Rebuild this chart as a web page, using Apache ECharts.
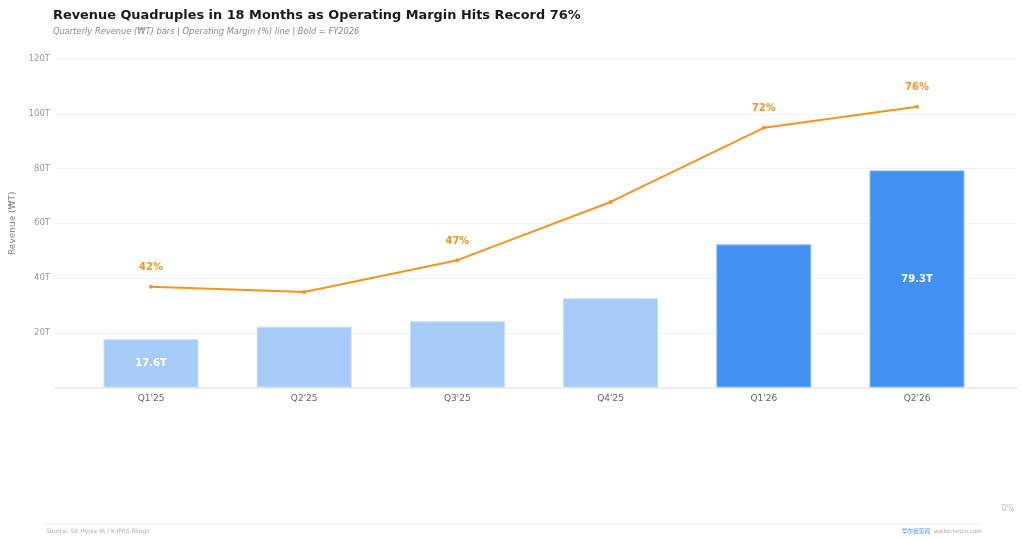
<!DOCTYPE html>
<html>
<head>
<meta charset="utf-8">
<script src="https://cdn.jsdelivr.net/npm/echarts@6/dist/echarts.min.js"></script>
<style>html,body{margin:0;padding:0;background:#fff}#c{width:1024px;height:540px}</style>
</head>
<body>
<div id="c"></div>
<script>
const quarters = ["Q1'25", "Q2'25", "Q3'25", "Q4'25", "Q1'26", "Q2'26"];
const fiscalYear = ['FY2025', 'FY2025', 'FY2025', 'FY2025', 'FY2026', 'FY2026'];
const revenueT = [17.6, 22.2, 24.2, 32.6, 52.3, 79.3];
const marginPct = [42, 41, 47, 58, 72, 76];
const revenueLabelIdx = [0, 5];
const marginLabelIdx = [0, 2, 4, 5];
const revenueTicks = [0, 20, 40, 60, 80, 100, 120];

const FONT = 'DejaVu Sans';
const chart = echarts.init(document.getElementById('c'), null, {renderer: 'canvas'});

const barData = revenueT.map((v, i) => ({
  value: v,
  itemStyle: {
    color: fiscalYear[i] === 'FY2026' ? '#4290f2' : '#a6cbf7',
    borderColor: fiscalYear[i] === 'FY2026' ? '#8fbcf7' : '#c4ddfa',
    borderWidth: 1
  },
  label: {show: revenueLabelIdx.includes(i)}
}));
const lineData = marginPct.map((v, i) => ({
  value: v,
  label: {show: marginLabelIdx.includes(i)}
}));

const gl = 74.4, gr = 30.4;
chart.setOption({
  animation: false,
  backgroundColor: '#fff',
  textStyle: {fontFamily: FONT},
  title: {
    text: 'Revenue Quadruples in 18 Months as Operating Margin Hits Record 76%',
    subtext: 'Quarterly Revenue (₩T) bars | Operating Margin (%) line | Bold = FY2026',
    left: 48, top: 4, itemGap: 6,
    textStyle: {fontFamily: FONT, fontSize: 12.9, fontWeight: 'bold', color: '#1a1a1a'},
    subtextStyle: {fontFamily: FONT, fontSize: 8.3, fontStyle: 'italic', color: '#888'}
  },
  grid: [
    {left: 52, right: 7, top: 59, bottom: 152.5},
    {left: gl, right: gr, top: 59, bottom: 152.5},
    {left: gl, right: gr, top: 59, bottom: 31}
  ],
  xAxis: [
    {gridIndex: 0, type: 'category', data: quarters, axisLine: {lineStyle: {color: '#e8e8e8', width: 1.5}},
     axisTick: {show: false}, axisLabel: {show: false}},
    {gridIndex: 1, type: 'category', data: quarters, axisLine: {show: false}, axisTick: {show: false},
     axisLabel: {color: '#666', fontSize: 9, fontFamily: FONT, margin: 7}},
    {gridIndex: 2, type: 'category', data: quarters, show: false}
  ],
  yAxis: [
    {gridIndex: 0, type: 'value', min: revenueTicks[0], max: revenueTicks[revenueTicks.length - 1], interval: 20,
     name: 'Revenue (₩T)', nameLocation: 'middle', nameGap: 38,
     nameTextStyle: {color: '#888', fontSize: 9, fontFamily: FONT},
     axisLine: {show: false}, axisTick: {show: false},
     axisLabel: {color: '#999', fontSize: 8.5, fontFamily: FONT, margin: 5, formatter: v => v === 0 ? '' : v + 'T'},
     splitLine: {lineStyle: {color: '#f1f1f1', width: 1}}},
    {gridIndex: 1, type: 'value', min: 0, max: 120, show: false},
    {gridIndex: 2, type: 'value', min: 0, max: 85, position: 'right',
     axisLine: {show: false}, axisTick: {show: false}, splitLine: {show: false},
     axisLabel: {color: '#bbb', fontSize: 8, fontFamily: FONT, margin: 8, formatter: v => v === 0 ? '0%' : ''}}
  ],
  series: [
    {type: 'bar', xAxisIndex: 1, yAxisIndex: 1, data: barData, barWidth: '62%',
     label: {position: 'inside', color: '#fff', fontWeight: 'bold', fontSize: 10, fontFamily: FONT, formatter: p => p.value + 'T'}},
    {type: 'line', xAxisIndex: 2, yAxisIndex: 2, data: lineData,
     lineStyle: {color: '#f7931e', width: 2}, itemStyle: {color: '#f7931e'},
     symbol: 'circle', symbolSize: 4,
     label: {position: 'top', distance: 12, color: '#f7931e', fontWeight: 'bold', fontSize: 10, fontFamily: FONT, formatter: p => p.value + '%'}}
  ],
  graphic: [
    {type: 'line', shape: {x1: 45, y1: 524, x2: 980, y2: 524}, style: {stroke: '#eeeeee', lineWidth: 1}},
    {type: 'text', left: 46, top: 528, style: {text: 'Source: SK Hynix IR / K-IFRS filings', fill: '#aaa', fontSize: 6, fontFamily: FONT}},
    {type: 'text', left: 902, top: 528, style: {text: '华尔街见闻', fill: '#3d8bf2', fontSize: 5.6, fontFamily: 'Noto Sans CJK SC'}},
    {type: 'text', left: 934, top: 528.5, style: {text: 'wallstreetcn.com', fill: '#aaa', fontSize: 5.6, fontFamily: FONT}}
  ]
});
</script>
</body>
</html>
